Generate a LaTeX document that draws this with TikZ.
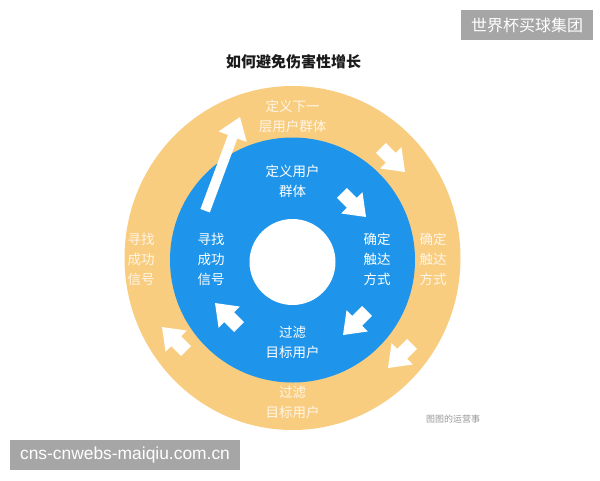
\documentclass[tikz,border=0pt]{standalone}
\usepackage{fontspec}
\setmainfont{Liberation Sans}
\newfontfamily\cjk{Noto Sans CJK SC}
\definecolor{ringorange}{HTML}{F9CD80}
\definecolor{ringblue}{HTML}{1E95EA}
\definecolor{outertext}{HTML}{FFF6E6}
\definecolor{wmgray}{HTML}{A6A6A6}
\definecolor{creditgray}{HTML}{9A9A9A}
\definecolor{titleink}{HTML}{1A1A1A}
\begin{document}
\begin{tikzpicture}[x=1pt,y=-1pt,
  lbl/.style={align=center, inner sep=0pt, font=\cjk\fontsize{13.5}{20}\selectfont},
  innerlbl/.style={lbl, text=white},
  outerlbl/.style={lbl, text=outertext},
  wmbox/.style={fill=wmgray, text=white, inner sep=0pt},
  fatarr/.pic={\fill[white] (0,0) -- (-20,15) -- (-20,7) -- (-34,7) -- (-34,-7) -- (-20,-7) -- (-20,-15) -- cycle;}
]
\useasboundingbox (0,0) rectangle (600,480);
\fill[white] (0,0) rectangle (600,480);

% rings
\fill[ringorange] (292.5,258) ellipse [x radius=168, y radius=172];
\fill[ringblue] (292.5,260) circle [radius=122.5];
\fill[white] (292.5,262) circle [radius=43];

% title
\node[font=\cjk\bfseries\fontsize{15}{18}\selectfont, text=titleink, inner sep=0pt] (title) at (293.5,62) {如何避免伤害性增长};

% watermark boxes
\node[wmbox, minimum width=132, minimum height=30, font=\cjk\fontsize{16}{18}\selectfont] (wmtop) at (527,25) {世界杯买球集团};
\node[wmbox, minimum width=230, minimum height=30, font=\fontsize{17.4}{19}\selectfont] (wmbottom) at (125,455) {cns-cnwebs-maiqiu.com.cn};

% credit
\node[font=\cjk\fontsize{9}{10}\selectfont, text=creditgray, inner sep=0pt] (credit) at (453,419) {图图的运营事};

% inner labels
\node[innerlbl] (intop) at (292.5,181) {定义用户\\群体};
\node[innerlbl] (inright) at (377,259) {确定\\触达\\方式};
\node[innerlbl] (inbottom) at (292.5,342) {过滤\\目标用户};
\node[innerlbl] (inleft) at (211,259) {寻找\\成功\\信号};

% outer labels
\node[outerlbl] (outtop) at (292.5,116) {定义下一\\层用户群体};
\node[outerlbl] (outright) at (433,259) {确定\\触达\\方式};
\node[outerlbl] (outbottom) at (292.5,402) {过滤\\目标用户};
\node[outerlbl] (outleft) at (141,259) {寻找\\成功\\信号};

% block arrows
\pic[rotate=-45] at (366,217) {fatarr};
\pic[rotate=-45] at (405,172) {fatarr};
\pic[rotate=-135] at (343,335) {fatarr};
\pic[rotate=-135] at (388,368) {fatarr};
\pic[rotate=135] at (215,303) {fatarr};
\pic[rotate=135] at (162,327) {fatarr};

% long arrow
\begin{scope}[shift={(240,117)}, rotate=69.6]
  \fill[white] (0,0) -- (-21,15) -- (-21,5) -- (-100,5) -- (-100,-5) -- (-21,-5) -- (-21,-15) -- cycle;
\end{scope}
\end{tikzpicture}
\end{document}
